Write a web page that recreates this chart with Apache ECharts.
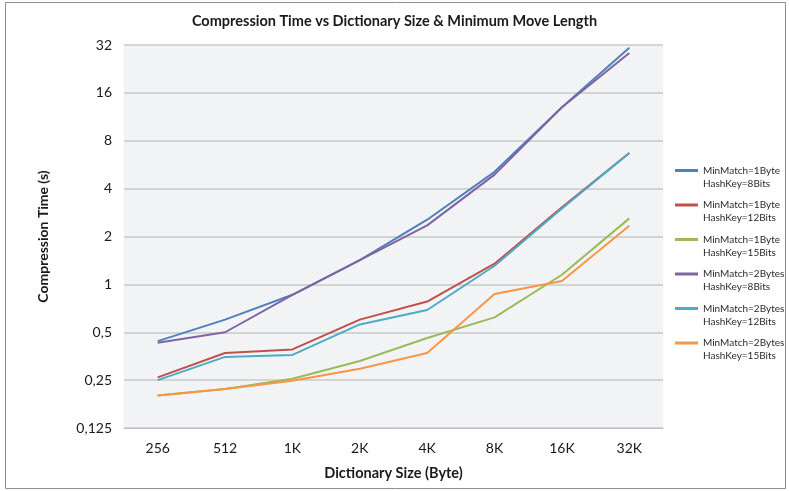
<!DOCTYPE html>
<html>
<head>
<meta charset="utf-8">
<style>
  html, body { margin: 0; padding: 0; background: #ffffff; }
  #chart { width: 789px; height: 491px; }
</style>
<script src="https://cdn.jsdelivr.net/npm/echarts@6/dist/echarts.min.js"></script>
</head>
<body>
<div id="chart"></div>
<script>
// Dictionary sizes along the x axis
var dictSizes = ['256', '512', '1K', '2K', '4K', '8K', '16K', '32K'];

// Compression time in seconds for each MinMatch / HashKey combination
var mm1Hash8  = [0.44, 0.60, 0.86, 1.42, 2.55, 5.1, 13.0, 30.8];
var mm1Hash12 = [0.26, 0.37, 0.39, 0.60, 0.78, 1.35, 3.05, 6.7];
var mm1Hash15 = [0.20, 0.22, 0.255, 0.33, 0.46, 0.62, 1.15, 2.6];
var mm2Hash8  = [0.43, 0.50, 0.86, 1.42, 2.35, 4.9, 13.0, 28.5];
var mm2Hash12 = [0.25, 0.35, 0.36, 0.56, 0.69, 1.31, 3.0, 6.7];
var mm2Hash15 = [0.20, 0.22, 0.248, 0.295, 0.37, 0.87, 1.05, 2.34];

var seriesNames = [
  'MinMatch=1Byte\nHashKey=8Bits',
  'MinMatch=1Byte\nHashKey=12Bits',
  'MinMatch=1Byte\nHashKey=15Bits',
  'MinMatch=2Bytes\nHashKey=8Bits',
  'MinMatch=2Bytes\nHashKey=12Bits',
  'MinMatch=2Bytes\nHashKey=15Bits'
];
var seriesData = [mm1Hash8, mm1Hash12, mm1Hash15, mm2Hash8, mm2Hash12, mm2Hash15];
var seriesColors = ['#4F81BD', '#C0504D', '#9BBB59', '#8064A2', '#4BACC6', '#F79646'];

// Time axis: powers of two from 1/8 s to 32 s
var yMin = 0.125;
var yMax = 32;

// Light dotted fill for the plotting area
function dottedPattern() {
  var c = document.createElement('canvas');
  c.width = 4; c.height = 4;
  var g = c.getContext('2d');
  g.fillStyle = '#F4F5F7';
  g.fillRect(0, 0, 4, 4);
  g.fillStyle = '#E6E8EC';
  g.fillRect(0, 0, 1, 1);
  g.fillRect(2, 2, 1, 1);
  return c;
}

var font = 'Lato, "Open Sans", sans-serif';
var chart = echarts.init(document.getElementById('chart'), null, { renderer: 'canvas' });

chart.setOption({
  backgroundColor: '#ffffff',
  animation: false,
  textStyle: { fontFamily: font },
  title: {
    text: 'Compression Time vs Dictionary Size & Minimum Move Length',
    left: 'center',
    top: 9,
    textStyle: { fontSize: 14.5, fontWeight: 'bold', color: '#1a1a1a', fontFamily: font }
  },
  graphic: [{
    type: 'rect',
    shape: { x: 5.5, y: 2.5, width: 780, height: 486 },
    style: { fill: null, stroke: '#8f8f8f', lineWidth: 1 },
    silent: true
  }],
  grid: {
    left: 124, right: 126, top: 45, bottom: 63,
    show: true,
    borderWidth: 0,
    backgroundColor: { image: dottedPattern(), repeat: 'repeat' }
  },
  legend: {
    orient: 'vertical',
    left: 670,
    top: 146,
    itemWidth: 23,
    itemHeight: 3,
    itemGap: -4.5,
    icon: 'rect',
    data: seriesNames,
    // a leading blank line keeps the swatch level with the first text line
    formatter: function (name) { return '\n' + name; },
    textStyle: {
      fontSize: 10,
      lineHeight: 13,
      color: '#2a2a2a',
      fontFamily: font
    }
  },
  xAxis: {
    type: 'category',
    data: dictSizes,
    boundaryGap: true,
    name: 'Dictionary Size (Byte)',
    nameLocation: 'middle',
    nameGap: 38,
    nameTextStyle: { fontSize: 14.5, fontWeight: 'bold', color: '#1a1a1a' },
    axisLine: { lineStyle: { color: '#BEBEBE', width: 1 } },
    axisTick: { show: false },
    axisLabel: { fontSize: 14, color: '#1a1a1a', margin: 13 }
  },
  yAxis: {
    type: 'log',
    logBase: 2,
    min: yMin,
    max: yMax,
    name: 'Compression Time (s)',
    nameLocation: 'middle',
    nameRotate: 90,
    nameGap: 74,
    nameTextStyle: { fontSize: 14, fontWeight: 'bold', color: '#1a1a1a' },
    axisLine: { show: false },
    axisTick: { show: false },
    splitLine: { lineStyle: { color: '#C8C8C8', width: 1.5 } },
    axisLabel: {
      fontSize: 14,
      color: '#1a1a1a',
      margin: 12,
      formatter: function (v) {
        var r = Math.round(v * 1000) / 1000;
        return String(r).replace('.', ',');
      }
    }
  },
  series: seriesData.map(function (d, i) {
    return {
      name: seriesNames[i],
      type: 'line',
      data: d,
      symbol: 'none',
      smooth: false,
      color: seriesColors[i],
      lineStyle: { width: 2, color: seriesColors[i] }
    };
  })
});
</script>
</body>
</html>
